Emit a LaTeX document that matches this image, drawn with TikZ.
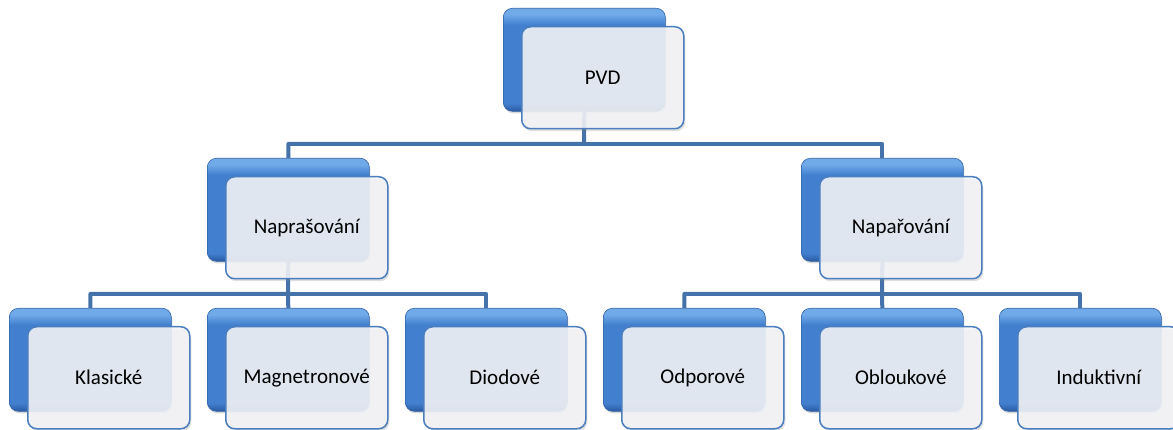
\documentclass[tikz,border=0pt]{standalone}
\usepackage{fontspec}
\setmainfont{Carlito}
\usetikzlibrary{shadows}

\definecolor{boxtop}{RGB}{112,170,232}
\definecolor{boxmid}{RGB}{66,127,206}
\definecolor{boxbot}{RGB}{42,90,162}
\definecolor{boxline}{RGB}{50,98,166}
\definecolor{linkblue}{RGB}{68,114,169}
\definecolor{frontfill}{RGB}{244,245,248}
\definecolor{frontline}{RGB}{74,126,190}

\pgfdeclareverticalshading{boxshade}{100bp}{color(0bp)=(boxbot); color(25bp)=(boxbot);
  color(29bp)=(boxmid); color(67bp)=(boxmid); color(72bp)=(boxtop); color(75bp)=(boxtop); color(100bp)=(boxtop)}

\begin{document}
\begin{tikzpicture}[x=1pt,y=-1pt,
  back/.style={anchor=north west,rectangle,rounded corners=9pt,minimum width=162pt,minimum height=103pt,
    shading=boxshade,draw=boxline,line width=0.6pt,
    drop shadow={shadow xshift=1pt,shadow yshift=-2pt,opacity=0.3}},
  front/.style={anchor=north west,rectangle,rounded corners=9pt,minimum width=162pt,minimum height=102pt,
    fill=frontfill,fill opacity=0.88,text opacity=1,draw=frontline,line width=1.5pt,
    drop shadow={shadow xshift=1.5pt,shadow yshift=-2.5pt,opacity=0.25},
    font=\fontsize{21}{25}\selectfont},
  conn/.style={draw=linkblue,line width=4pt,line join=round}]

\useasboundingbox (0,0) rectangle (1173,430);

% back boxes
\node[back] (pvdb) at (503,8) {};
\node[back] (naprb) at (207,158) {};
\node[back] (naparb) at (801,158) {};
\node[back] (klasb) at (9,308) {};
\node[back] (magb) at (207,308) {};
\node[back] (diob) at (405,308) {};
\node[back] (odpb) at (603,308) {};
\node[back] (oblb) at (801,308) {};
\node[back] (indb) at (999,308) {};

\coordinate (bar0) at (584,144);
\coordinate (bar1) at (288,294);
\coordinate (bar2) at (882,294);

\draw[conn] (pvdb.south) -- (bar0) -| (naprb.north);
\draw[conn] (bar0) -| (naparb.north);

\draw[conn] (naprb.south) -- (bar1) -| (klasb.north);
\draw[conn] (bar1) -- (magb.north);
\draw[conn] (bar1) -| (diob.north);

\draw[conn] (naparb.south) -- (bar2) -| (odpb.north);
\draw[conn] (bar2) -- (oblb.north);
\draw[conn] (bar2) -| (indb.north);

% front boxes
\node[front] (pvd) at (521,26) {PVD};
\node[front] (napr) at (225,176) {Naprašování};
\node[front] (napar) at (819,176) {Napařování};
\node[front] (klas) at (27,326) {Klasické};
\node[front] (mag) at (225,326) {Magnetronové};
\node[front] (dio) at (423,326) {Diodové};
\node[front] (odp) at (621,326) {Odporové};
\node[front] (obl) at (819,326) {Obloukové};
\node[front] (ind) at (1017,326) {Induktivní};
\end{tikzpicture}
\end{document}
